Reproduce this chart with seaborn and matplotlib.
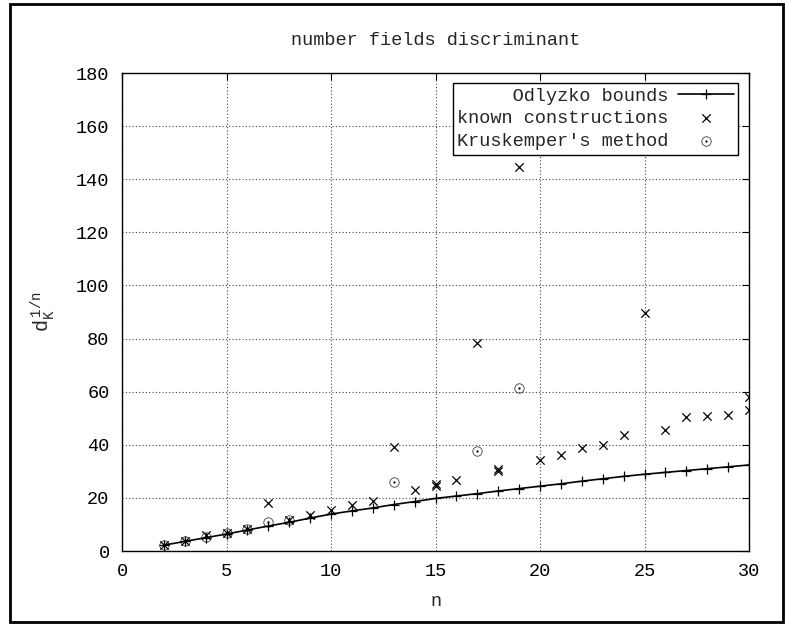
import numpy as np
import pandas as pd
import matplotlib
matplotlib.use("Agg")
import matplotlib.pyplot as plt
import seaborn as sns
from matplotlib.patches import Rectangle

# ---- data ----
odl_n = list(range(2, 31))
odl_v = [2.2, 3.6, 5.0, 6.4, 7.9, 9.4, 10.8, 12.4, 13.9, 15.1, 16.2, 17.5, 18.6,
         19.8, 20.7, 21.6, 22.6, 23.5, 24.4, 25.3, 26.3, 27.2, 28.1, 28.9, 29.6,
         30.3, 31.0, 31.7, 32.4]

known_n = [2, 3, 4, 5, 6, 7, 8, 9, 10, 11, 12, 13, 14, 15, 15, 16, 17, 18, 18,
           19, 20, 21, 22, 23, 24, 25, 26, 27, 28, 29, 30, 30]
known_v = [2.2, 3.7, 6.2, 6.8, 8.3, 17.9, 11.6, 13.5, 15.6, 17.2, 18.9, 39.2,
           22.9, 24.5, 25.1, 26.7, 78.3, 30.3, 30.9, 144.5, 34.3, 36.0, 38.9,
           39.8, 43.7, 89.5, 45.7, 50.4, 51.0, 51.3, 53.2, 58.0]

krus_n = [2, 3, 4, 5, 6, 7, 8, 13, 17, 19]
krus_v = [2.2, 3.7, 5.2, 6.8, 8.3, 11.0, 11.5, 25.8, 37.6, 61.4]

title = "number fields discriminant"
xlabel = "n"
labels = ["     Odlyzko bounds", "known constructions", "Kruskemper's method"]

# ---- style ----
sns.set_theme(style="white")
mono = ["Liberation Mono", "DejaVu Sans Mono"]
plt.rcParams["font.family"] = mono
plt.rcParams["mathtext.fontset"] = "custom"
plt.rcParams["mathtext.rm"] = "Liberation Mono"
plt.rcParams["mathtext.it"] = "Liberation Mono"
FS = 13.4

fig = plt.figure(figsize=(7.85, 6.26), dpi=100)
ax = fig.add_axes([122 / 785, 1 - 551 / 626, 627 / 785, 478 / 626])

sns.lineplot(x=odl_n, y=odl_v, ax=ax, color="black", lw=1.2, marker="+",
             markersize=7, markeredgewidth=0.9, markeredgecolor="black",
             label=labels[0])
sns.scatterplot(x=known_n, y=known_v, ax=ax, color="black", marker="x",
                s=36, linewidth=0.9, label=labels[1])
sns.scatterplot(x=krus_n, y=krus_v, ax=ax, color="black", marker=r"$\odot$",
                s=50, linewidth=0.1, edgecolor="black", label=labels[2])

ax.set_xlim(0, 30)
ax.set_ylim(0, 180)
ax.set_xticks(range(0, 31, 5))
ax.set_yticks(range(0, 181, 20))
ax.grid(True, color="#444444", linestyle=(0, (1, 2)), linewidth=0.8)
ax.tick_params(direction="in", length=5, width=0.8, top=True, right=True,
               labelsize=FS, colors="black", pad=9)
for s in ax.spines.values():
    s.set_color("black")
    s.set_linewidth(1.0)

ax.set_xlabel(xlabel, fontsize=FS, labelpad=9)
ax.set_ylabel(r"$\mathrm{d}_{\mathrm{K}}^{\ \mathrm{1/n}}$", fontsize=FS + 1, labelpad=14)
ax.set_title(title, fontsize=FS, pad=20)

h, l = ax.get_legend_handles_labels()
leg = ax.legend(h, l, loc="upper right", bbox_to_anchor=(0.983, 0.979),
                borderaxespad=0, markerfirst=False, frameon=True, fancybox=False,
                framealpha=1, edgecolor="black", fontsize=FS, handlelength=3.0,
                handletextpad=0.5, borderpad=0.25, labelspacing=0.3)
leg.get_frame().set_linewidth(1.0)

fig.add_artist(Rectangle((10 / 785, 4 / 626), 773 / 785, 618 / 626,
                         transform=fig.transFigure, fill=False,
                         edgecolor="black", linewidth=2))

fig.savefig("out.png", dpi=100)
